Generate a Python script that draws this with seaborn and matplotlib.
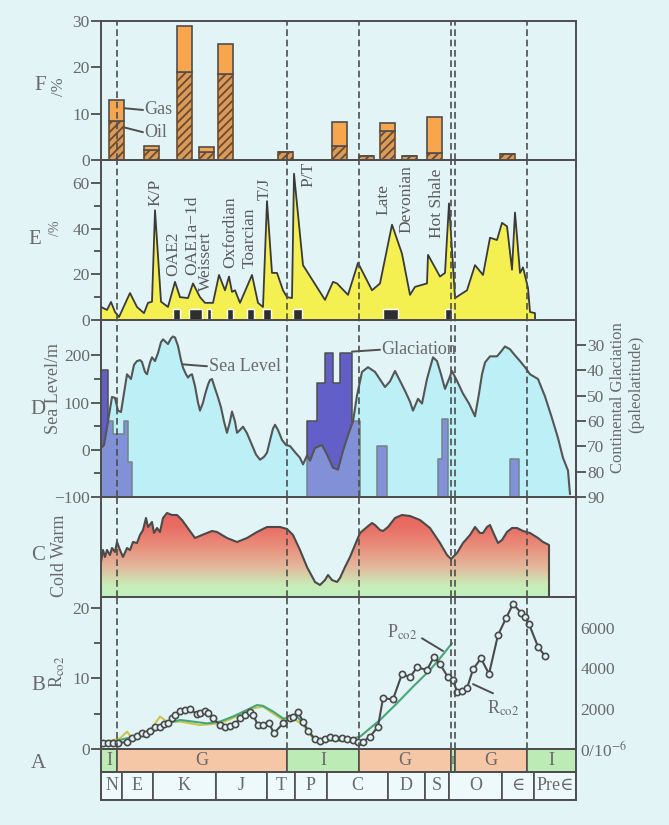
import numpy as np
import seaborn as sns
import matplotlib.pyplot as plt
from matplotlib.colors import LinearSegmentedColormap

# horizontal axis = position along the geological column (no numeric time scale)
X0, X1 = 101, 576

# F: share of oil / gas (%)
res_x = [116.5, 151.5, 184.5, 206.5, 225.5, 285, 339, 366.5, 387, 409.5, 434.5, 507.5]
res_oil = [8.5, 2.2, 19, 1.8, 18.5, 1.8, 3.0, 0.9, 6.3, 0.9, 1.5, 1.2]
res_gas = [4.5, 0.8, 10, 1.0, 6.5, 0, 5.3, 0, 1.7, 0, 7.8, 0.1]

# E: extinction rate (%)
ext_x = [101, 107, 111, 115, 119, 130, 137, 144, 148, 152, 155, 161, 168, 175, 180, 188, 193, 200,
         205, 213, 219, 225, 229, 232, 235, 240, 252, 258, 263, 267, 272, 277, 283, 287, 292, 294,
         303, 325, 333, 337, 348, 358, 372, 380, 392, 402, 410, 415, 427, 428, 440, 445, 449, 452,
         455, 467, 475, 483, 490, 497, 502, 507, 512, 515, 520, 523, 528, 530, 535, 535]
ext_val = [5.7, 4.4, 7.9, 3.5, 1.3, 11.8, 5.7, 3, 7.5, 8, 48, 8, 5.7, 16.7, 10, 9.6, 16, 10,
           7.5, 7.5, 19.7, 13, 19, 12.3, 13, 7.5, 19.7, 7.5, 5.7, 52, 20.6, 20.6, 13, 10, 9.6, 64,
           24, 8.8, 16.7, 16, 11, 25, 13, 16, 41.7, 29, 11, 14.5, 16, 28.5, 19, 20.6, 51, 30.7,
           9.6, 13, 24, 19.7, 36, 35, 42.5, 41, 22, 47, 20.6, 23, 14, 3.5, 3, 0]
event_left = [173, 189, 207, 227, 247, 263, 293, 383, 445]
event_right = [180, 202, 211, 233, 254, 271, 302, 398, 452]
event_names = ['K/P', 'OAE2', 'OAE1a\u22121d', 'Weissert', 'Oxfordian', 'Toarcian', 'T/J', 'P/T',
               'Late', 'Devonian', 'Hot Shale']
event_lx = [155, 173, 192, 206, 230, 250, 265, 308, 383, 406, 437]
event_ly = [55.7, 28.9, 37.1, 25.7, 38.2, 36.2, 57.5, 63.6, 52.6, 53, 51]

# D: sea level (m) and continental glaciation (paleolatitude)
sea_x = [101, 104, 108, 112, 115, 118, 121, 124, 127, 131, 134, 137, 140, 142, 145, 147, 150, 152,
         155, 158, 161, 163, 166, 168, 171, 173, 175, 178, 181, 183, 186, 188, 190, 192, 195, 198,
         200, 203, 205, 208, 210, 212, 215, 218, 221, 224, 227, 230, 232, 235, 237, 240, 243, 247,
         252, 256, 260, 264, 267, 270, 273, 275, 278, 282, 286, 290, 295, 300, 303, 307, 310, 315,
         322, 327, 333, 338, 343, 348, 353, 357, 362, 368, 375, 385, 390, 395, 400, 405, 410, 413,
         418, 422, 427, 433, 437, 441, 445, 449, 452, 457, 463, 469, 475, 479, 482, 485, 490, 497,
         501, 505, 510, 515, 520, 525, 530, 538, 545, 552, 558, 563, 568, 570]
sea_m = [4, 10, 60, 112, 110, 83, 80, 120, 160, 150, 180, 188, 190, 186, 165, 160, 185, 196,
         188, 205, 228, 234, 228, 224, 236, 240, 238, 220, 190, 174, 160, 153, 158, 160, 135, 100,
         83, 100, 117, 138, 148, 150, 130, 111, 90, 60, 36, 60, 81, 60, 36, 42, 49, 35,
         10, -10, -21, -15, -6, 20, 45, 53, 42, 21, 10, 8, -5, -17, -31, -12, -23, 4,
         10, -10, -38, -42, -2, 31, 60, 115, 165, 175, 165, 133, 145, 167, 146, 125, 102, 83,
         108, 98, 150, 196, 188, 160, 129, 150, 167, 146, 119, 98, 71, 119, 160, 185, 198, 198,
         208, 219, 213, 200, 188, 175, 160, 150, 113, 67, 25, -17, -44, -94]
glac_x = [[101, 108, 113, 124, 128, 132],
          [307, 317, 325, 333, 340, 352, 360],
          [377, 387],
          [438, 442, 448],
          [510, 519]]
glac_lat = [[40, 60, 65, 60, 76, 76],
            [60, 45, 33, 45, 33, 60, 60],
            [70, 70],
            [75, 59, 59],
            [75, 75]]

# C: climate (cold -> warm index)
temp_x = [101, 103, 105, 107, 110, 112, 115, 117, 120, 123, 127, 130, 133, 137, 140, 143, 146, 148,
          152, 154, 157, 160, 163, 167, 172, 177, 182, 187, 195, 202, 212, 217, 227, 237, 247, 257,
          267, 280, 287, 293, 300, 307, 315, 320, 325, 328, 332, 337, 340, 345, 350, 360, 367, 372,
          375, 380, 383, 388, 395, 402, 410, 420, 430, 440, 447, 451, 457, 463, 470, 475, 480, 483,
          487, 490, 493, 498, 502, 507, 512, 517, 523, 530, 538, 543, 549, 549]
temp_val = [35, 47, 40, 47, 42, 49, 45, 55, 47, 40, 49, 47, 55, 54, 62, 67, 79, 70,
            75, 64, 69, 65, 79, 84, 82, 82, 77, 70, 59, 62, 66, 65, 59, 55, 59, 65,
            70, 70, 68, 62, 47, 30, 15, 12, 17, 22, 17, 15, 19, 30, 40, 64, 70, 74,
            72, 67, 66, 70, 79, 82, 81, 77, 69, 54, 42, 38, 44, 54, 62, 70, 64, 64,
            70, 72, 65, 54, 57, 65, 69, 69, 66, 64, 59, 55, 52, 0]

# B: R_CO2 (ratio) and P_CO2 (10^-6)
rco2_x = [103, 108, 113, 118, 127, 132, 137, 142, 146, 150, 155, 160, 164, 168, 172, 175, 180, 185,
          190, 197, 200, 205, 208, 213, 220, 225, 230, 235, 240, 245, 250, 253, 258, 263, 269, 274,
          283, 290, 293, 298, 303, 308, 315, 320, 325, 330, 335, 342, 347, 353, 358, 363, 370, 378,
          383, 393, 402, 410, 417, 427, 434, 440, 448, 453, 457, 462, 467, 473, 481, 489, 498, 506,
          513, 521, 525, 529, 538, 545]
rco2_val = [0.9, 0.9, 0.9, 0.8, 1.04, 1.51, 1.89, 2.32, 2.13, 2.6, 3.07, 3.17, 3.55, 3.64, 4.35, 4.82, 5.44, 5.53,
            5.67, 4.92, 5.15, 5.44, 5.06, 4.35, 3.4, 3.17, 3.26, 3.55, 4.35, 4.82, 5.2, 4.82, 3.4, 3.4, 3.64, 2.22,
            3.64, 4.35, 4.59, 5.3, 3.88, 2.6, 1.37, 1.18, 1.42, 1.65, 1.51, 1.51, 1.37, 1.28, 1.04, 1.04, 1.75, 3.17,
            7.19, 7.05, 10.64, 10.17, 11.58, 11.21, 13.1, 12.06, 10.17, 9.79, 8.13, 8.27, 8.61, 11.3, 12.86, 10.64, 16.17, 18.54,
            20.57, 19.33, 18.77, 17.73, 14.51, 13.19]
pco2_x = [103, 120, 133, 143, 157, 167, 180, 193, 207, 220, 233, 247, 257, 263, 273, 283, 290, 297,
          303, 313, 323, 340, 347, 360, 380, 397, 413, 430, 440, 452]
pco2_ppm = [280, 450, 610, 700, 950, 1270, 1440, 1360, 1270, 1360, 1610, 1940, 2180, 2140, 1860, 1520, 1520, 1610,
            1270, 610, 450, 410, 450, 610, 1440, 2270, 3090, 3920, 4500, 5250]
pco2b_x = [103, 120, 127, 132, 143, 153, 160, 167, 180, 200, 220, 240, 253, 263, 273, 283, 293, 303,
           313, 323, 333]
pco2b_ppm = [320, 530, 860, 530, 750, 1110, 1610, 1360, 1360, 1190, 1270, 1690, 2020, 2100, 1770, 1440, 1520, 1190,
             530, 410, 450]

# A: tectonic regime and geological periods
tect_edges = [101, 117, 287, 359, 451, 455, 527, 576]
tect_labels = ['I', 'G', 'I', 'G', 'I', 'G', 'I']
period_edges = [101, 122, 153, 216, 267, 295, 327, 388, 425, 449, 502, 534, 576]
period_labels = ['N', 'E', 'K', 'J', 'T', 'P', 'C', 'D', 'S', 'O', '\u2208', 'Pre\u2208']

BG = '#e3f4f6'
LINE = '#4e4e4e'
TXT = '#6a6a6a'
SEA = '#bdeff6'

sns.set_theme(style='ticks')
plt.rcParams['font.family'] = ['Liberation Serif', 'DejaVu Serif']
plt.rcParams['mathtext.fontset'] = 'stix'
plt.rcParams['hatch.linewidth'] = 1.3
plt.rcParams['hatch.color'] = '#6b4b2e'

W, H = 669, 825
fig = plt.figure(figsize=(W / 100, H / 100), dpi=100, facecolor=BG)


def panel(top, bottom):
    ax = fig.add_axes([X0 / W, 1 - bottom / H, (X1 - X0) / W, (bottom - top) / H])
    ax.set_facecolor('none')
    ax.set_xlim(X0, X1)
    ax.set_xticks([])
    for s in ax.spines.values():
        s.set_color(LINE)
        s.set_linewidth(1.4)
    ax.tick_params(axis='y', colors=LINE, labelcolor=TXT, labelsize=12.5, length=7, width=1.3,
                   direction='out', pad=1)
    ax.tick_params(axis='y', which='minor', length=5, width=1.3, colors=LINE)
    return ax


def ftext(x, y, s, **kw):
    kw.setdefault('color', TXT)
    fig.text(x / W, 1 - y / H, s, ha='center', va='center', **kw)


def dashes(ax):
    for xb in tect_edges[1:-1]:
        ax.axvline(xb, color=LINE, ls=(0, (4, 2.2)), lw=1.2, zorder=6)


# ---- F
axF = panel(21, 160)
axF.bar(res_x, res_oil, width=15, color='#d99a5a', edgecolor='#6b4b2e', hatch='////', lw=1.2, zorder=3)
axF.bar(res_x, res_gas, bottom=res_oil, width=15, color='#f7a64e', edgecolor=LINE, lw=1.2, zorder=3)
axF.set_ylim(0, 30)
axF.set_yticks([0, 10, 20, 30])
axF.plot([123, 143], [11.2, 10.8], color=LINE, lw=1.4)
axF.plot([123, 143], [7.1, 6.0], color=LINE, lw=1.4)
axF.text(144, 10.8, 'Gas', color=TXT, fontsize=13, va='center')
axF.text(144, 6.0, 'Oil', color=TXT, fontsize=13, va='center')
dashes(axF)
ftext(40, 85, 'F', fontsize=15)
ftext(59, 87, '/%', fontsize=12, rotation=90)

# ---- E
axE = panel(160, 320)
axE.fill_between(ext_x, ext_val, 0, color='#f4f052', lw=0, zorder=2)
sns.lineplot(x=ext_x, y=ext_val, ax=axE, color='#3a3a3a', lw=1.3, sort=False, estimator=None, zorder=3)
axE.bar(event_left, 5, width=np.subtract(event_right, event_left), align='edge', color='#2e2e2e', zorder=4)
for name, lx, ly in zip(event_names, event_lx, event_ly):
    axE.text(lx, ly, name, rotation=90, ha='center', va='center', color='#5a5a5a', fontsize=12.5, zorder=7)
axE.set_ylim(0, 70)
axE.set_yticks([0, 20, 40, 60])
axE.set_yticks([10, 30, 50], minor=True)
axE.set_ylabel('')
dashes(axE)
ftext(35, 240, 'E', fontsize=15)
ftext(55, 228, '/%', fontsize=10, rotation=90)

# ---- D
axD = panel(320, 497)
axG = axD.twinx()
axG.set_ylim(90, 20.1)
axG.set_xlim(X0, X1)
for s in axG.spines.values():
    s.set_color(LINE)
    s.set_linewidth(1.4)
axG.tick_params(axis='y', colors=LINE, labelcolor=TXT, labelsize=12.5, length=7, width=1.3, pad=1)
axG.set_yticks([30, 40, 50, 60, 70, 80, 90])
axG.grid(False)
# sea level area, glaciation on top, then a thin veil of sea colour so the
# glaciation below the sea-level line reads lighter
axD.fill_between(sea_x, sea_m, -100, color=SEA, lw=0, zorder=1)
for gx, gl in zip(glac_x, glac_lat):
    axD.fill_between(gx, gl, 90, step='post', transform=axG.transData, facecolor='#6260c8',
                     edgecolor=LINE, lw=1.1, zorder=2)
axD.fill_between(sea_x, sea_m, -100, color=SEA, alpha=0.34, lw=0, zorder=3)
sns.lineplot(x=sea_x, y=sea_m, ax=axD, color='#555555', lw=1.5, sort=False, estimator=None, zorder=4)
axD.set_ylim(-100, 275)
axD.set_xlim(X0, X1)
axD.set_yticks([-100, 0, 100, 200])
axD.set_yticks([-50, 50, 150], minor=True)
axD.set_ylabel('')
axD.plot([183, 207], [181, 177], color=LINE, lw=1.4, zorder=5)
axD.text(209, 177, 'Sea Level', color=TXT, fontsize=13, va='center', zorder=7)
axD.plot([352, 380], [208, 212], color=LINE, lw=1.4, zorder=5)
axD.text(381, 212, 'Glaciation', color=TXT, fontsize=13, va='center', zorder=7)
dashes(axD)
ftext(38, 410, 'D', fontsize=15)
ftext(53, 389, 'Sea Level/m', fontsize=13, rotation=90)
ftext(618, 398, 'Continental Glaciation', fontsize=12, rotation=90)
ftext(636, 384, '(paleolatitude)', fontsize=12, rotation=90)

# ---- C
axC = panel(497, 597)
temp_fill = axC.fill_between(temp_x, temp_val, 0, color='none', lw=0)
cmap = LinearSegmentedColormap.from_list('coldwarm', [(0, '#bff2c0'), (0.12, '#c8ecb8'),
                                                      (0.3, '#e2b89c'), (0.5, '#e98f7c'),
                                                      (0.7, '#e96e64'), (1, '#e65c56')])
grad = np.linspace(0, 1, 256).reshape(-1, 1)
im = axC.imshow(grad, extent=[X0, X1, 0, 100], origin='lower', cmap=cmap, aspect='auto', zorder=1)
im.set_clip_path(temp_fill.get_paths()[0], axC.transData)
sns.lineplot(x=temp_x, y=temp_val, ax=axC, color='#4a4a4a', lw=1.5, sort=False, estimator=None, zorder=3)
axC.set_xlim(X0, X1)
axC.set_ylim(0, 100)
axC.set_yticks([])
axC.set_ylabel('')
dashes(axC)
ftext(38, 555, 'C', fontsize=15)
ftext(60, 556, 'Cold Warm', fontsize=13, rotation=90)

# ---- B
axB = panel(597, 749)
axP = axB.twinx()
axP.set_ylim(0, 7540)
axP.set_xlim(X0, X1)
for s in axP.spines.values():
    s.set_color(LINE)
    s.set_linewidth(1.4)
axP.grid(False)
axP.tick_params(axis='y', length=0, labelcolor=TXT, labelsize=12.5, pad=3)
axP.set_yticks([0, 2000, 4000, 6000])
axP.set_yticklabels(['0/10$^{-6}$', '2000', '4000', '6000'])
axB.plot(pco2b_x, pco2b_ppm, color='#c9c54e', lw=1.5, transform=axP.transData, zorder=2)
axB.plot(pco2_x, pco2_ppm, color='#47a57a', lw=1.5, transform=axP.transData, zorder=2)
sns.lineplot(x=rco2_x, y=rco2_val, ax=axB, color='#4a4a4a', lw=1.5, sort=False, estimator=None,
             marker='o', markersize=4.5, markerfacecolor=BG, markeredgecolor='#4a4a4a',
             markeredgewidth=1.2, zorder=4)
axB.set_xlim(X0, X1)
axB.set_ylim(0, 21.56)
axB.set_yticks([0, 10, 20])
axB.set_yticks([5, 15], minor=True)
axB.set_ylabel('')
axB.plot([422, 443], [15.7, 13.9], color=LINE, lw=1.4, zorder=5)
axB.plot([473, 493], [9.2, 7.9], color=LINE, lw=1.4, zorder=5)
axB.text(402, 16.6, 'P$_{\\rm co2}$', color=TXT, fontsize=13, ha='center', va='center')
axB.text(503, 5.8, 'R$_{\\rm co2}$', color=TXT, fontsize=13, ha='center', va='center')
dashes(axB)
ftext(38, 685, 'B', fontsize=15)
ftext(57, 672, 'R$_{\\rm co2}$', fontsize=13, rotation=90)

# ---- A: tectonic regime
axA = panel(749, 772)
tcol = {'I': '#bdebb6', 'G': '#f6c7a6'}
axA.barh(0.5, np.diff(tect_edges), left=tect_edges[:-1], height=1,
         color=[tcol[t] for t in tect_labels], edgecolor=LINE, lw=1.2)
for a, b, t in zip(tect_edges[:-1], tect_edges[1:], tect_labels):
    axA.text((a + b) / 2, 0.5, t, ha='center', va='center', color=TXT,
             fontsize=13 if b - a > 8 else 9)
axA.set_ylim(0, 1)
axA.set_yticks([])
ftext(38, 764, 'A', fontsize=15)

# ---- periods
axT = panel(772, 800)
axT.barh(0.5, np.diff(period_edges), left=period_edges[:-1], height=1,
         color='#edf9fb', edgecolor=LINE, lw=1.2)
for a, b, t in zip(period_edges[:-1], period_edges[1:], period_labels):
    axT.text((a + b) / 2, 0.5, t, ha='center', va='center', color=TXT, fontsize=13)
axT.set_ylim(0, 1)
axT.set_yticks([])

fig.savefig('out.png', dpi=100, facecolor=BG)
